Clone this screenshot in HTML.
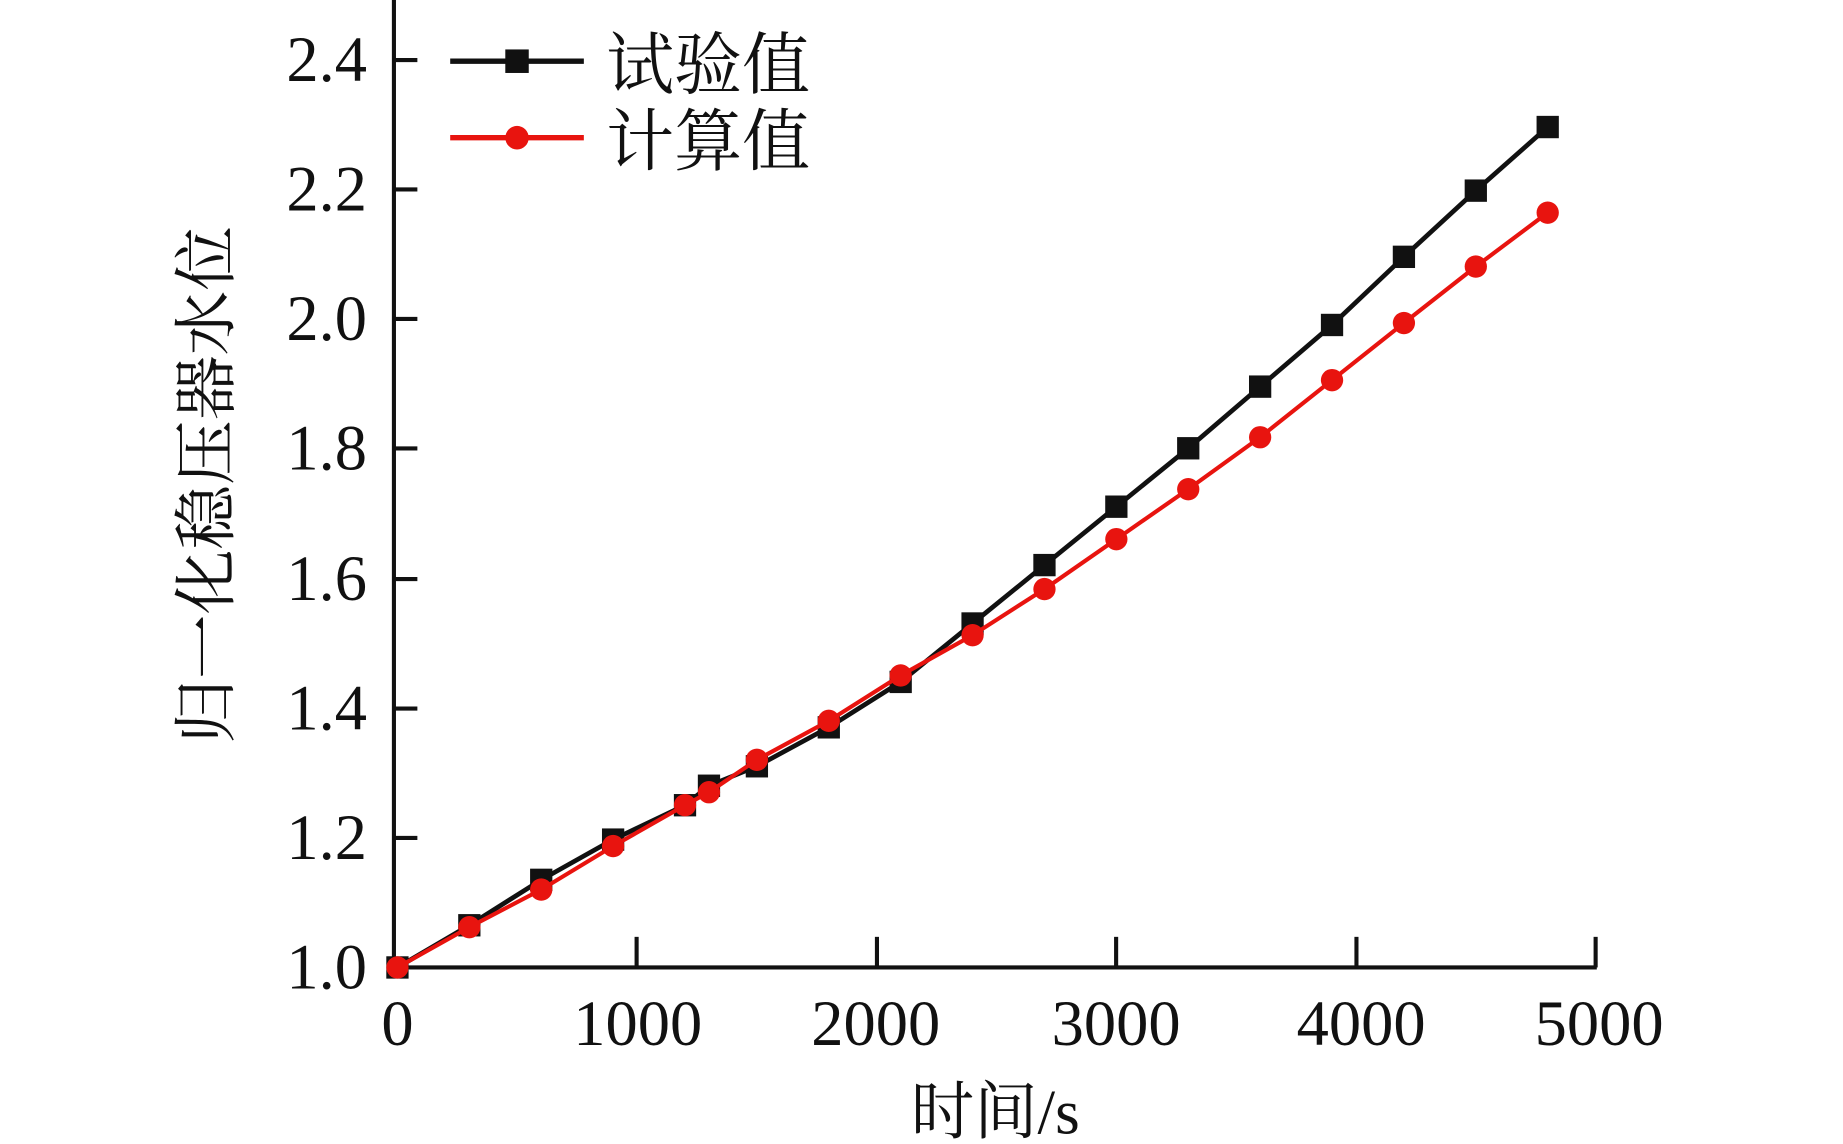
<!DOCTYPE html>
<html><head><meta charset="utf-8"><style>
html,body{margin:0;padding:0;background:#fff;}
svg{display:block;}
text{font-family:"Liberation Serif","Noto Serif CJK SC",serif;fill:#111;}
</style></head><body>
<svg id="s" width="1843" height="1144" viewBox="-1 0 1572 972" preserveAspectRatio="none" xmlns="http://www.w3.org/2000/svg">
<g stroke="#111" stroke-width="3.5" fill="none">
<line x1="335" y1="0" x2="335" y2="824"/>
<line x1="333" y1="822" x2="1361" y2="822"/>
<line x1="335" y1="51" x2="355" y2="51"/>
<line x1="335" y1="161" x2="355" y2="161"/>
<line x1="335" y1="271" x2="355" y2="271"/>
<line x1="335" y1="381" x2="355" y2="381"/>
<line x1="335" y1="492" x2="355" y2="492"/>
<line x1="335" y1="602" x2="355" y2="602"/>
<line x1="335" y1="712" x2="355" y2="712"/>
<line x1="542" y1="796" x2="542" y2="822"/>
<line x1="747" y1="796" x2="747" y2="822"/>
<line x1="951" y1="796" x2="951" y2="822"/>
<line x1="1156" y1="796" x2="1156" y2="822"/>
<line x1="1360" y1="796" x2="1360" y2="822"/>
</g>
<g font-size="55" text-anchor="end">
<text x="312" y="69">2.4</text><text x="312" y="179">2.2</text><text x="312" y="289">2.0</text>
<text x="312" y="399">1.8</text><text x="312" y="510">1.6</text><text x="312" y="620">1.4</text>
<text x="312" y="730">1.2</text><text x="312" y="840">1.0</text>
</g>
<g font-size="55" text-anchor="middle">
<text x="338" y="888">0</text><text x="543" y="888">1000</text><text x="746" y="888">2000</text>
<text x="951" y="888">3000</text><text x="1160" y="888">4000</text><text x="1363" y="888">5000</text>
<text x="848" y="963" font-size="54">时间/s</text>
<text transform="translate(194,412) rotate(-90)" font-size="55">归一化稳压器水位</text>
</g>
<line x1="383" y1="52" x2="497" y2="52" stroke="#111" stroke-width="4.5"/>
<rect x="430" y="42" width="20" height="20" fill="#111"/>
<line x1="383" y1="117" x2="497" y2="117" stroke="#e8140f" stroke-width="4.5"/>
<circle cx="440" cy="117" r="10" fill="#e8140f"/>
<text x="516" y="75" font-size="58">试验值</text>
<text x="516" y="140" font-size="58">计算值</text>
<g id="plot"></g>
</svg>
<script>
var X=function(v){return 338+v*0.20440;},Y=function(v){return 822-(v-1)*551.4;};
var t=[0,300,600,900,1200,1300,1500,1800,2100,2400,2700,3000,3300,3600,3900,4200,4500,4800];
var b=[1.0,1.065,1.135,1.197,1.25,1.28,1.31,1.37,1.44,1.53,1.62,1.71,1.80,1.895,1.99,2.095,2.197,2.295];
var r=[1.0,1.062,1.12,1.187,1.25,1.27,1.32,1.38,1.45,1.512,1.583,1.66,1.737,1.817,1.905,1.993,2.08,2.163];
var h='';
h+='<polyline fill="none" stroke="#111" stroke-width="4" points="'+t.map(function(v,i){return X(v)+','+Y(b[i]);}).join(' ')+'"/>';
t.forEach(function(v,i){h+='<rect x="'+(X(v)-9.5)+'" y="'+(Y(b[i])-9.5)+'" width="19" height="19" fill="#111"/>';});
h+='<polyline fill="none" stroke="#e8140f" stroke-width="3.5" points="'+t.map(function(v,i){return X(v)+','+Y(r[i]);}).join(' ')+'"/>';
t.forEach(function(v,i){h+='<circle cx="'+X(v)+'" cy="'+Y(r[i])+'" r="9.5" fill="#e8140f"/>';});
document.getElementById('plot').innerHTML=h;
</script>
</body></html>
